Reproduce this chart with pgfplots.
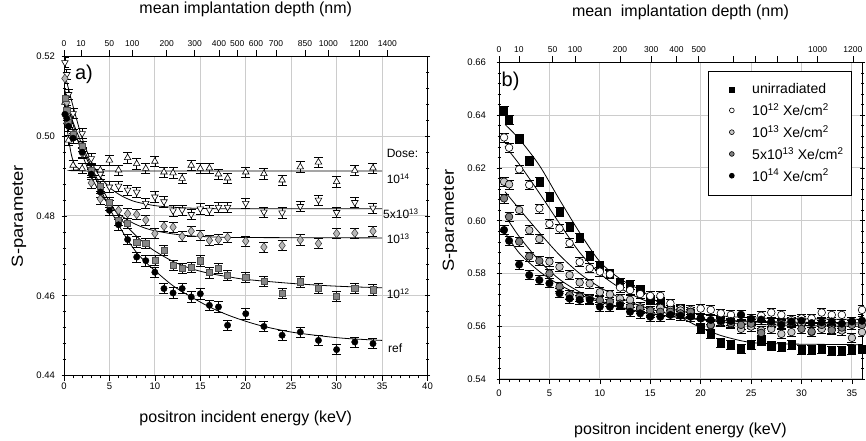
\documentclass[border=0pt]{standalone}
\usepackage{graphicx}
\usepackage{pgfplots}
\pgfplotsset{compat=1.18}
\usepackage{fontspec}
\setmainfont{Liberation Sans}
\definecolor{gridc}{gray}{0.8}
\definecolor{dia}{gray}{0.72}
\definecolor{sqg}{gray}{0.52}
\definecolor{lgc}{gray}{0.78}
\definecolor{mgc}{gray}{0.5}
\newcommand{\fs}[1]{\fontsize{#1}{#1}\selectfont}
\pgfplotsset{
  common/.style={
    scale only axis,
    axis line style={line width=0.8pt},
    every tick/.style={black, line width=0.6pt},
    /pgf/number format/assume math mode=true,
    ticklabel style={font=\fs{9.5}},
    grid=major,
    major grid style={gridc, line width=1pt},
    minor x tick num=4, minor y tick num=4,
    xtick pos=left,
    xtick align=outside, ytick align=center,
    major tick length=5pt, minor tick length=3pt,
    yticklabel style={/pgf/number format/fixed, /pgf/number format/fixed zerofill, /pgf/number format/precision=2},
  },
  topax/.style={
    scale only axis,
    axis x line*=top, axis y line=none,
    axis line style={line width=0.8pt},
    every tick/.style={black, line width=0.6pt},
    xtick align=outside, major tick length=6pt,
    ticklabel style={font=\fs{8.5}},
    ymin=0, ymax=1,
    title style={font=\fs{16}, anchor=center, yshift=0pt},
  },
  ebl/.style={error bars/y dir=both, error bars/y fixed=0.0013,
    error bars/error bar style={line width=0.6pt, black},
    error bars/error mark options={rotate=90, mark size=4.5pt, line width=0.6pt, black}},
  ebr/.style={error bars/y dir=both, error bars/y fixed=0.0017,
    error bars/error bar style={line width=0.6pt, black},
    error bars/error mark options={rotate=90, mark size=4.5pt, line width=0.6pt, black}},
  fit/.style={black, line width=0.8pt, smooth, no marks, forget plot},
}
\begin{document}
\begin{tikzpicture}
\useasboundingbox (0pt,0pt) rectangle (866pt,441pt);

% ---------------- panel a -----------------
\begin{axis}[common, at={(64pt,65.5pt)}, anchor=south west, width=363.5pt, height=319pt,
  xmin=0, xmax=40, ymin=0.44, ymax=0.52,
  xtick={0,5,10,15,20,25,30,35,40}, ytick={0.44,0.46,0.48,0.50,0.52},
  xlabel={positron incident energy (keV)},
  xlabel style={font=\fs{16}, at={(axis description cs:0.5,-0.133)}, anchor=center},
  ylabel={\scalebox{1.15}[1]{S-parameter}},
  ylabel style={font=\fs{16}, at={(axis description cs:-0.124,0.5)}, anchor=center},
  yticklabel style={xshift=-3pt},
  xticklabel style={yshift=1pt},
]
% fits
\addplot[fit] coordinates {(0.1,0.507)(0.4,0.501)(0.8,0.4955)(1.2,0.4928)(1.8,0.4917)(3,0.4913)(35,0.4913)};
\addplot[fit] coordinates {(0.1,0.5155)(1,0.5075)(2,0.4995)(3,0.4937)(4,0.4898)(5,0.4872)(6,0.4855)(7,0.4843)(8,0.4835)(10,0.4826)(12,0.4822)(15,0.4819)(20,0.4818)(35,0.4818)};
\addplot[fit] coordinates {(0.1,0.5115)(1,0.5030)(2,0.4955)(3,0.4899)(4,0.4857)(5,0.4828)(6,0.4806)(7,0.4790)(8,0.4778)(9,0.4769)(10,0.4763)(12,0.4755)(14,0.4750)(17,0.4747)(20,0.4746)(35,0.4745)};
\addplot[fit] coordinates {(0.1,0.5095)(1,0.5035)(2,0.4978)(3,0.4925)(4,0.4877)(5,0.4836)(6,0.4801)(7,0.4772)(8,0.4749)(9,0.4729)(10,0.4712)(12,0.4686)(14,0.4668)(16,0.4656)(18,0.4648)(20,0.4641)(25,0.4631)(30,0.4624)(35,0.4620)};
\addplot[fit] coordinates {(0.1,0.5065)(1,0.5015)(2,0.4968)(3,0.4918)(4,0.4868)(5,0.4820)(6,0.4778)(7,0.4740)(8,0.4708)(9,0.4684)(10,0.4663)(12,0.4625)(14,0.4597)(16,0.4572)(18,0.4552)(20,0.4536)(22,0.4523)(25,0.4509)(28,0.4500)(31,0.4493)(35,0.4488)};
% 10^14 triangles up
\addplot[only marks, ebl, mark=triangle*, mark size=3.8pt, mark options={fill=white, draw=black, line width=0.6pt}] coordinates {
(0.1,0.5085)(0.3,0.5036)(0.5,0.4990)(1,0.4927)(2,0.4919)(3,0.4916)(4,0.4915)(5,0.4940)(6,0.4915)(7,0.4946)(8,0.4931)(9,0.4919)(10,0.4937)(11,0.4910)(12,0.4908)(13,0.4894)(14,0.4927)(15,0.4919)(16,0.4920)(17,0.4905)(18,0.4895)(20,0.4910)(22,0.4906)(24,0.4890)(26,0.4923)(28,0.4935)(30,0.4886)(32,0.4914)(34,0.4920)};
% 5x10^13 triangles down
\addplot[only marks, ebl, mark=triangle*, mark size=3.8pt, mark options={rotate=180, fill=white, draw=black, line width=0.6pt}] coordinates {
(0.1,0.5185)(0.3,0.5155)(0.5,0.5105)(1,0.5057)(2,0.5007)(3,0.4944)(4,0.4905)(5,0.4873)(6,0.4875)(7,0.4865)(8,0.4860)(9,0.4832)(10,0.4848)(11,0.4836)(12,0.4813)(13,0.4815)(14,0.4804)(15,0.4818)(16,0.4815)(17,0.4822)(18,0.4822)(20,0.4832)(22,0.4810)(24,0.4808)(26,0.4824)(28,0.4840)(30,0.4809)(32,0.4834)(34,0.4820)};
% 10^13 diamonds
\addplot[only marks, ebl, mark=diamond*, mark size=4.3pt, mark options={fill=dia, draw=black!80, line width=0.5pt}] coordinates {
(0.1,0.5145)(0.3,0.5085)(0.5,0.5045)(1,0.5005)(2,0.4958)(3,0.4883)(4,0.4843)(5,0.4827)(6,0.4814)(7,0.4806)(8,0.4804)(9,0.4790)(10,0.4756)(11,0.4774)(12,0.4772)(13,0.4749)(14,0.4762)(15,0.4752)(16,0.4739)(17,0.4741)(18,0.4746)(20,0.4737)(22,0.4722)(24,0.4726)(26,0.4740)(28,0.4731)(30,0.4756)(32,0.4757)(34,0.4762)};
% 10^12 squares
\addplot[only marks, ebl, mark=square*, mark size=3.1pt, mark options={fill=sqg, draw=black!70, line width=0.5pt}] coordinates {
(0.1,0.5095)(0.3,0.5065)(0.5,0.5035)(1,0.5005)(2,0.4975)(3,0.4915)(4,0.4875)(5,0.4835)(6,0.4790)(7,0.4781)(8,0.4735)(9,0.4732)(10,0.4689)(11,0.4714)(12,0.4677)(13,0.4669)(14,0.4672)(15,0.4688)(16,0.4658)(17,0.4669)(18,0.4651)(20,0.4646)(22,0.4636)(24,0.4606)(26,0.4635)(28,0.4618)(30,0.4598)(32,0.4618)(34,0.4615)};
% ref circles
\addplot[only marks, ebl, mark=*, mark size=3.2pt, mark options={fill=black, draw=black}] coordinates {
(0.1,0.5055)(0.3,0.5045)(0.5,0.5025)(1,0.4995)(2,0.4960)(3,0.4905)(4,0.4860)(5,0.4814)(6,0.4778)(7,0.4741)(8,0.4697)(9,0.4688)(10,0.4659)(11,0.4618)(12,0.4607)(13,0.4618)(14,0.4597)(15,0.4605)(16,0.4576)(17,0.4572)(18,0.4526)(20,0.4555)(22,0.4523)(24,0.4501)(26,0.4509)(28,0.4488)(30,0.4465)(32,0.4484)(34,0.4480)};
\node[anchor=west, inner sep=0pt, font=\fs{20}] at (axis cs:1.2,0.5156) {a)};
\node[anchor=west, inner sep=0pt, font=\fs{12}] at (axis cs:35.5,0.4958) {Dose:};
\node[anchor=west, inner sep=0pt, font=\fs{12}] at (axis cs:35.5,0.4893) {10\textsuperscript{14}};
\node[anchor=west, inner sep=0pt, font=\fs{12}] at (axis cs:35.1,0.4806) {5x10\textsuperscript{13}};
\node[anchor=west, inner sep=0pt, font=\fs{12}] at (axis cs:35.5,0.4743) {10\textsuperscript{13}};
\node[anchor=west, inner sep=0pt, font=\fs{12}] at (axis cs:35.5,0.4605) {10\textsuperscript{12}};
\node[anchor=west, inner sep=0pt, font=\fs{12}] at (axis cs:35.65,0.4468) {ref};
\end{axis}
\begin{axis}[topax, at={(64pt,65.5pt)}, anchor=south west, width=363.5pt, height=319pt,
  xmin=0, xmax=40,
  xtick={0,1.87,4.99,7.52,11.3,14.38,17.06,19.07,21.13,23.33,26.52,29.09,32.46,35.58},
  xticklabels={0,10,50,100,200,300,400,500,600,700,850,1000,1200,1400},
  title={mean implantation depth (nm)},
  title style={at={(axis description cs:0.5,1.13)}},
]
\end{axis}

% ---------------- panel b -----------------
\begin{axis}[common, at={(499pt,62pt)}, anchor=south west, width=363pt, height=316.5pt,
  xmin=0, xmax=36, ymin=0.54, ymax=0.66,
  xtick={0,5,10,15,20,25,30,35}, ytick={0.54,0.56,0.58,0.60,0.62,0.64,0.66},
  xlabel={positron incident energy (keV)},
  xlabel style={font=\fs{16}, at={(axis description cs:0.5,-0.161)}, anchor=center},
  ylabel={\scalebox{1.15}[1]{S-parameter}},
  ylabel style={font=\fs{16}, at={(axis description cs:-0.135,0.5)}, anchor=center},
  yticklabel style={xshift=-7pt},
  xticklabel style={yshift=-2pt},
  legend cell align=left,
  legend image code/.code={\draw[#1, mark size=2.4pt] plot coordinates {(0pt,0pt)}; \path (-17pt,0pt) (18pt,0pt);},
  legend style={at={(rel axis cs:0.5758,0.9735)}, anchor=north west, draw=black, line width=0.8pt,
    font=\fs{14}, inner xsep=6pt, inner ysep=10.5pt, row sep=4.2pt, nodes={inner ysep=2pt}},
]
\addplot[fit] coordinates {(0.6,0.6365)(2,0.6310)(4,0.6210)(6,0.6080)(8,0.5955)(10,0.5845)(12,0.5780)(14,0.5738)(15,0.5712)(16,0.5685)(18,0.5635)(20,0.5595)(22,0.5565)(24,0.5545)(25,0.5538)(28,0.5533)(36,0.5530)};
\addplot[fit] coordinates {(0.6,0.6283)(2,0.6215)(4,0.6105)(6,0.5990)(8,0.5880)(10,0.5800)(12,0.5745)(14,0.5705)(16,0.5677)(18,0.5658)(20,0.5646)(24,0.5634)(28,0.5629)(36,0.5626)};
\addplot[fit] coordinates {(0.6,0.6110)(2,0.6045)(4,0.5955)(6,0.5870)(8,0.5800)(10,0.5748)(12,0.5708)(14,0.5678)(16,0.5655)(18,0.5638)(20,0.5625)(24,0.5610)(28,0.5604)(36,0.5600)};
\addplot[fit] coordinates {(0.6,0.6020)(2,0.5940)(4,0.5848)(6,0.5778)(8,0.5730)(10,0.5697)(12,0.5673)(14,0.5656)(16,0.5643)(18,0.5633)(20,0.5626)(25,0.5616)(30,0.5611)(36,0.5608)};
\addplot[fit] coordinates {(0.6,0.5955)(2,0.5878)(4,0.5808)(6,0.5757)(8,0.5720)(10,0.5692)(12,0.5670)(14,0.5654)(16,0.5642)(18,0.5633)(20,0.5627)(25,0.5619)(30,0.5615)(36,0.5613)};
% unirradiated
\addplot[only marks, ebr, mark=square*, mark size=3.6pt, mark options={fill=black, draw=black}] coordinates {
(0.5,0.6417)(1,0.6382)(2,0.6309)(3,0.6228)(4,0.6148)(5,0.6089)(6,0.6034)(7,0.5977)(8,0.5936)(9,0.5867)(10,0.5831)(11,0.5798)(12,0.5763)(13,0.5756)(14,0.5737)(15,0.5700)(16,0.5694)(17,0.5662)(18,0.5662)(19,0.5649)(20,0.5592)(21,0.5573)(22,0.5538)(23,0.5529)(24,0.5516)(25,0.5529)(26,0.5544)(27,0.5525)(28,0.5522)(29,0.5531)(30,0.5510)(31,0.5510)(32,0.5513)(33,0.5506)(34,0.5506)(35,0.5510)(36,0.5513)};
\addlegendentry{unirradiated}
% 10^12
\addplot[only marks, ebr, mark=*, mark size=3.8pt, mark options={fill=white, draw=black, line width=0.6pt}] coordinates {
(0.5,0.6316)(1,0.6277)(2,0.6195)(3,0.6136)(4,0.6047)(5,0.5988)(6,0.5971)(7,0.5915)(8,0.5843)(9,0.5820)(10,0.5807)(11,0.5797)(12,0.5747)(13,0.5737)(14,0.5722)(15,0.5715)(16,0.5715)(17,0.5687)(18,0.5667)(19,0.5662)(20,0.5667)(21,0.5662)(22,0.5649)(23,0.5643)(24,0.5643)(25,0.5621)(26,0.5640)(27,0.5652)(28,0.5643)(29,0.5624)(30,0.5630)(31,0.5630)(32,0.5652)(33,0.5643)(34,0.5643)(35,0.5616)(36,0.5662)};
\addlegendentry{10\textsuperscript{12} Xe/cm\textsuperscript{2}}
% 10^13
\addplot[only marks, ebr, mark=*, mark size=3.8pt, mark options={fill=lgc, draw=black, line width=0.6pt}] coordinates {
(0.5,0.6148)(1,0.6138)(2,0.6041)(3,0.5964)(4,0.5931)(5,0.5845)(6,0.5825)(7,0.5794)(8,0.5766)(9,0.5762)(10,0.5729)(11,0.5721)(12,0.5705)(13,0.5700)(14,0.5672)(15,0.5650)(16,0.5670)(17,0.5662)(18,0.5660)(19,0.5655)(20,0.5630)(21,0.5603)(22,0.5616)(23,0.5609)(24,0.5590)(25,0.5599)(26,0.5584)(27,0.5590)(28,0.5571)(29,0.5578)(30,0.5609)(31,0.5578)(32,0.5590)(33,0.5590)(34,0.5584)(35,0.5556)(36,0.5578)};
\addlegendentry{10\textsuperscript{13} Xe/cm\textsuperscript{2}}
% 5x10^13
\addplot[only marks, ebr, mark=*, mark size=3.8pt, mark options={fill=mgc, draw=black, line width=0.6pt}] coordinates {
(0.5,0.6085)(1,0.6015)(2,0.5921)(3,0.5865)(4,0.5848)(5,0.5800)(6,0.5750)(7,0.5718)(8,0.5712)(9,0.5705)(10,0.5699)(11,0.5693)(12,0.5686)(13,0.5674)(14,0.5667)(15,0.5660)(16,0.5655)(17,0.5655)(18,0.5649)(19,0.5655)(20,0.5630)(21,0.5605)(22,0.5620)(23,0.5612)(24,0.5605)(25,0.5610)(26,0.5575)(27,0.5612)(28,0.5610)(29,0.5615)(30,0.5590)(31,0.5580)(32,0.5605)(33,0.5585)(34,0.5595)(35,0.5605)(36,0.5605)};
\addlegendentry{5x10\textsuperscript{13} Xe/cm\textsuperscript{2}}
% 10^14
\addplot[only marks, ebr, mark=*, mark size=3.8pt, mark options={fill=black, draw=black}] coordinates {
(0.5,0.5965)(1,0.5924)(2,0.5834)(3,0.5794)(4,0.5775)(5,0.5763)(6,0.5725)(7,0.5705)(8,0.5700)(9,0.5700)(10,0.5674)(11,0.5674)(12,0.5680)(13,0.5655)(14,0.5649)(15,0.5636)(16,0.5636)(17,0.5643)(18,0.5640)(19,0.5636)(20,0.5630)(21,0.5624)(22,0.5621)(23,0.5620)(24,0.5643)(25,0.5628)(26,0.5625)(27,0.5618)(28,0.5605)(29,0.5618)(30,0.5621)(31,0.5612)(32,0.5615)(33,0.5618)(34,0.5610)(35,0.5618)(36,0.5621)};
\addlegendentry{10\textsuperscript{14} Xe/cm\textsuperscript{2}}
\node[anchor=west, inner sep=0pt, font=\fs{20}] at (axis cs:0.25,0.653) {b)};
\end{axis}
\begin{axis}[topax, at={(499pt,62pt)}, anchor=south west, width=363pt, height=316.5pt,
  xmin=0, xmax=36,
  xtick={0,1.98,5.32,7.54,12.0,15.1,17.6,19.8,23.2,25.4,27.6,29.6,31.6,35.1},
  xticklabels={0,10,50,100,200,300,400,500,,,,,1000,1200},
  title={mean\ \ implantation depth (nm)},
  title style={at={(axis description cs:0.5,1.1406)}},
]
\end{axis}
\end{tikzpicture}
\end{document}
